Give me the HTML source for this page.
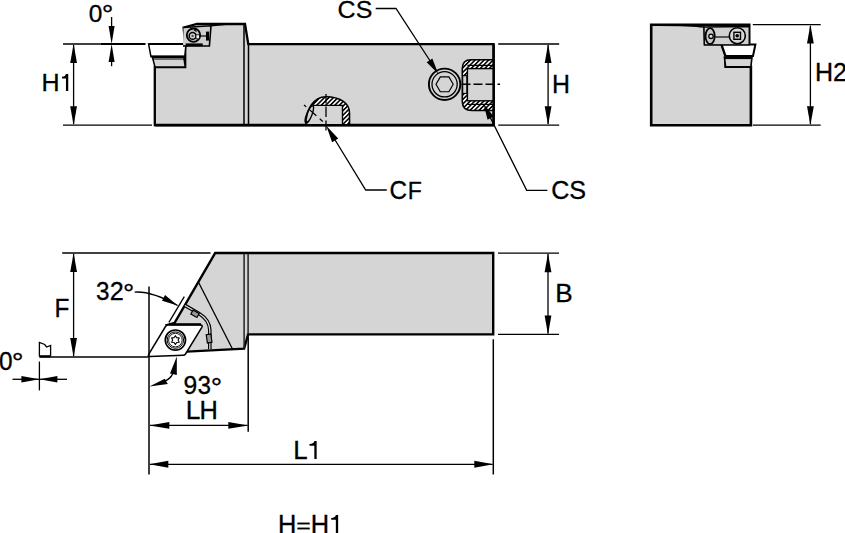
<!DOCTYPE html>
<html><head><meta charset="utf-8"><style>
html,body{margin:0;padding:0;background:#fff;width:845px;height:533px;overflow:hidden}
svg{display:block}
text{font-family:"Liberation Sans",sans-serif;fill:#000}
</style></head><body>
<svg width="845" height="533" viewBox="0 0 845 533">
<rect width="845" height="533" fill="#fff"/>
<line x1="63" y1="44" x2="100.5" y2="44" stroke="#000" stroke-width="1.3" />
<line x1="100.5" y1="44" x2="145.5" y2="44" stroke="#000" stroke-width="2.0" />
<line x1="63" y1="125.2" x2="152" y2="125.2" stroke="#000" stroke-width="1.3" />
<line x1="73.6" y1="45" x2="73.6" y2="124" stroke="#000" stroke-width="1.3" />
<polygon points="73.60,44.00 77.00,63.00 70.20,63.00" fill="#000"/>
<polygon points="73.60,125.20 70.20,106.20 77.00,106.20" fill="#000"/>
<text x="0" y="0" font-size="25" transform="matrix(1.0025,0,0,0.9709,41.49,90.85)" stroke="#000" stroke-width="0.3">H</text>
<path d="M65.95,73.90 H68.25 V91.10 H65.95 V78.54 H62.00 V76.74 C64.35,76.74 65.65,75.45 65.95,73.90 Z" fill="#000"/>
<line x1="111.6" y1="17" x2="111.6" y2="30" stroke="#000" stroke-width="1.3" />
<line x1="111.6" y1="55" x2="111.6" y2="66.2" stroke="#000" stroke-width="1.3" />
<polygon points="111.60,44.00 108.60,26.00 114.60,26.00" fill="#000"/>
<polygon points="111.60,44.00 114.60,62.00 108.60,62.00" fill="#000"/>
<text x="0" y="0" font-size="25" transform="matrix(0.9790,0,0,0.9802,88.79,22.41)" stroke="#000" stroke-width="0.3">0</text>
<text x="0" y="0" font-size="25" transform="matrix(1.1703,0,0,1.0779,101.81,24.37)" stroke="#000" stroke-width="0.3">&#176;</text>
<path d="M154.8,125 V67 H185.2 V44.2 L183.6,27.5 L197,24 H245 L248.3,44.2 H493.6 V125 Z" fill="#d5d5d5" stroke="#000" stroke-width="2.3" stroke-linejoin="miter"/>
<path d="M148.6,44.1 H186 L184.8,56.3 L150.9,56.4 Z" fill="#fff" stroke="#000" stroke-width="1.5"/>
<line x1="148.6" y1="44.1" x2="186" y2="44.1" stroke="#000" stroke-width="2.0" />
<line x1="150.9" y1="56.5" x2="184.8" y2="56.5" stroke="#000" stroke-width="2.0" />
<path d="M152.4,57.2 H183.8 L185.2,67 H155 Z" fill="#d5d5d5" stroke="#000" stroke-width="1.5"/>
<line x1="152.6" y1="57.2" x2="183.8" y2="57.2" stroke="#000" stroke-width="1.6" />
<line x1="153" y1="59" x2="184" y2="59" stroke="#000" stroke-width="1.0" />
<path d="M183.6,27.5 L211,25.8 L209.4,46 L183,46" fill="#cfcfcf" stroke="#000" stroke-width="1.6"/>
<path d="M211,25.8 Q230,23.5 245,24" fill="none" stroke="#000" stroke-width="1.4"/>
<line x1="185.7" y1="44.8" x2="202.7" y2="44.8" stroke="#000" stroke-width="2.8" />
<circle cx="193.5" cy="35.2" r="6.7" fill="#c4c4c4" stroke="#000" stroke-width="1.8"/>
<circle cx="192.6" cy="35.9" r="3.4" fill="#d0d0d0" stroke="#000" stroke-width="1.5"/>
<circle cx="192.6" cy="35.9" r="1.2" fill="#555"/>
<rect x="196" y="34.8" width="3.4" height="4" fill="#f4f4f4" stroke="#000" stroke-width="0.8"/>
<line x1="194" y1="29.5" x2="196.5" y2="31.5" stroke="#000" stroke-width="1.2" />
<line x1="199.5" y1="36" x2="206" y2="36" stroke="#000" stroke-width="1.2" />
<rect x="206" y="31.6" width="3" height="9" fill="#000"/>
<line x1="244" y1="25" x2="244" y2="124" stroke="#000" stroke-width="1.5" />
<line x1="248.5" y1="44" x2="248.5" y2="124" stroke="#000" stroke-width="1.5" />
<defs><pattern id="h" patternUnits="userSpaceOnUse" width="3.2" height="3.2" patternTransform="rotate(45)"><rect width="3.2" height="3.2" fill="#fff"/><rect width="1.55" height="3.2" fill="#000"/></pattern></defs>
<clipPath id="cfc"><path d="M305.7,125 C306,110 313,96.7 326,96.7 C340,96.7 349.5,103 349.5,113 V125 Z"/></clipPath>
<path d="M305.7,125 C306,110 313,96.7 326,96.7 C340,96.7 349.5,103 349.5,113 V125 Z" fill="url(#h)"/>
<rect x="300" y="105.4" width="42.5" height="20" fill="#d5d5d5" clip-path="url(#cfc)"/>
<path d="M312.4,105.4 H342.5 V125" fill="none" stroke="#000" stroke-width="1.4"/>
<path d="M305.7,125 C306,110 313,96.7 326,96.7 C340,96.7 349.5,103 349.5,113 V125" fill="none" stroke="#000" stroke-width="1.6"/>
<ellipse cx="309.3" cy="114.5" rx="2.6" ry="9.2" transform="rotate(22 309.3 114.5)" fill="none" stroke="#000" stroke-width="1.3"/>
<circle cx="306.5" cy="122" r="1.5" fill="#000"/>
<line x1="326" y1="94" x2="326" y2="130.6" stroke="#000" stroke-width="1.3" stroke-dasharray="9.5,3,10.5,3.5,10"/>
<line x1="304" y1="104.9" x2="322.9" y2="121.6" stroke="#000" stroke-width="1.3" stroke-dasharray="3,4.5,9,4.5,4"/>
<circle cx="444.6" cy="84.3" r="15.7" fill="none" stroke="#000" stroke-width="1.9"/>
<circle cx="444.6" cy="84.3" r="12.6" fill="none" stroke="#000" stroke-width="1.3"/>
<polygon points="453.20,84.30 448.90,91.75 440.30,91.75 436.00,84.30 440.30,76.85 448.90,76.85" fill="none" stroke="#000" stroke-width="1.2"/>
<path d="M493.6,59.7 H471 C465,59.7 462.3,62.5 462.3,68.5 V101.5 C462.3,107.5 465.5,110.5 472,110.5 H493.6 Z" fill="url(#h)" stroke="#000" stroke-width="1.6"/>
<rect x="467.4" y="68.6" width="26.2" height="32.2" fill="#d5d5d5" stroke="#000" stroke-width="1.4"/>
<line x1="467.4" y1="65.4" x2="493.6" y2="65.4" stroke="#000" stroke-width="1.3" />
<line x1="467.4" y1="104.4" x2="493.6" y2="104.4" stroke="#000" stroke-width="1.2" />
<rect x="462.7" y="75.7" width="4.1" height="17.7" fill="#d5d5d5" stroke="#000" stroke-width="1.1"/>
<line x1="461.5" y1="84.3" x2="500" y2="84.3" stroke="#000" stroke-width="1.4" stroke-dasharray="9,3"/>
<path d="M493.6,44.2 V125.2 H154.8" fill="none" stroke="#000" stroke-width="2.4"/>
<text x="0" y="0" font-size="25" transform="matrix(0.9979,0,0,0.9830,337.58,17.71)" stroke="#000" stroke-width="0.3">C</text>
<text x="0" y="0" font-size="25" transform="matrix(1.0005,0,0,0.9830,355.71,17.71)" stroke="#000" stroke-width="0.3">S</text>
<polyline points="375.7,8.5 396,8.5 436,70" fill="none" stroke="#000" stroke-width="1.3"/>
<polygon points="438.20,73.80 426.66,62.21 432.37,58.52" fill="#000"/>
<polyline points="329,130 365.7,190 386.8,190" fill="none" stroke="#000" stroke-width="1.3"/>
<polygon points="326.30,125.80 338.26,138.41 332.12,142.17" fill="#000"/>
<text x="0" y="0" font-size="25" transform="matrix(0.9727,0,0,1.0282,389.42,199.40)" stroke="#000" stroke-width="0.3">C</text>
<text x="0" y="0" font-size="25" transform="matrix(0.9248,0,0,0.9884,407.65,199.35)" stroke="#000" stroke-width="0.3">F</text>
<polyline points="486,109 526.7,190.4 547.4,190.4" fill="none" stroke="#000" stroke-width="1.3"/>
<polygon points="483.50,103.80 493.68,116.60 487.60,119.64" fill="#000"/>
<text x="0" y="0" font-size="25" transform="matrix(1.0043,0,0,1.0226,551.18,198.60)" stroke="#000" stroke-width="0.3">C</text>
<text x="0" y="0" font-size="25" transform="matrix(1.0075,0,0,1.0226,569.21,198.60)" stroke="#000" stroke-width="0.3">S</text>
<line x1="498.2" y1="44" x2="559.2" y2="44" stroke="#000" stroke-width="1.3" />
<line x1="498.2" y1="125.2" x2="559.2" y2="125.2" stroke="#000" stroke-width="1.3" />
<line x1="548.1" y1="45" x2="548.1" y2="124" stroke="#000" stroke-width="1.3" />
<polygon points="548.10,44.00 551.50,63.00 544.70,63.00" fill="#000"/>
<polygon points="548.10,125.20 544.70,106.20 551.50,106.20" fill="#000"/>
<text x="0" y="0" font-size="25" transform="matrix(0.9954,0,0,1.0116,551.91,92.65)" stroke="#000" stroke-width="0.3">H</text>
<path d="M651.2,24.8 H749.2 V44.5 H721.6 L725.6,56 V66.7 H750.9 V125.2 H651.2 Z" fill="#d5d5d5" stroke="#000" stroke-width="2.6"/>
<path d="M721.6,44.5 H755.4 L753,56 H725.6 Z" fill="#fff" stroke="#000" stroke-width="2"/>
<path d="M724.4,57.2 H752 L750.9,66.7 H725.6 Z" fill="#d5d5d5" stroke="#000" stroke-width="1.6"/>
<line x1="724.4" y1="57.8" x2="752" y2="57.8" stroke="#000" stroke-width="2.6" />
<path d="M651,25.2 Q690,25 704,27 L704.4,44.8 H721.6" fill="none" stroke="#000" stroke-width="1.4"/>
<path d="M704,27 L749.2,26.5 V44.8 H704.4 Z" fill="#d0d0d0" stroke="#000" stroke-width="1.3"/>
<ellipse cx="710.1" cy="36.1" rx="4.6" ry="8" fill="#c8c8c8" stroke="#000" stroke-width="1.8"/>
<circle cx="711" cy="36.3" r="2.2" fill="#e0e0e0" stroke="#000" stroke-width="1.3"/>
<circle cx="737.3" cy="35.7" r="8" fill="#d8d8d8" stroke="#000" stroke-width="1.6"/>
<rect x="733.9" y="32.3" width="6.6" height="7" fill="none" stroke="#000" stroke-width="1.4"/>
<circle cx="737.2" cy="35.8" r="1.8" fill="#000"/>
<line x1="715" y1="37" x2="729.3" y2="37" stroke="#000" stroke-width="1.2" />
<line x1="752.8" y1="24.6" x2="820.7" y2="24.6" stroke="#000" stroke-width="1.3" />
<line x1="752.8" y1="125.2" x2="820.7" y2="125.2" stroke="#000" stroke-width="1.3" />
<line x1="810.4" y1="26" x2="810.4" y2="124" stroke="#000" stroke-width="1.3" />
<polygon points="810.40,24.60 813.80,43.60 807.00,43.60" fill="#000"/>
<polygon points="810.40,125.20 807.00,106.20 813.80,106.20" fill="#000"/>
<text x="0" y="0" font-size="25" transform="matrix(1.0025,0,0,1.0058,814.99,80.75)" stroke="#000" stroke-width="0.3">H</text>
<text x="0" y="0" font-size="25" transform="matrix(1.0097,0,0,1.0082,832.88,80.75)" stroke="#000" stroke-width="0.3">2</text>
<line x1="62.2" y1="253" x2="210.5" y2="253" stroke="#000" stroke-width="1.3" />
<line x1="39.4" y1="357" x2="148.3" y2="357" stroke="#000" stroke-width="1.3" />
<line x1="73.6" y1="254" x2="73.6" y2="356" stroke="#000" stroke-width="1.3" />
<polygon points="73.60,253.00 77.00,272.00 70.20,272.00" fill="#000"/>
<polygon points="73.60,357.00 70.20,338.00 77.00,338.00" fill="#000"/>
<text x="0" y="0" font-size="25" transform="matrix(0.9739,0,0,1.0233,54.55,316.65)" stroke="#000" stroke-width="0.3">F</text>
<path d="M215.2,253 H493.2 V334.4 H248.1 L244.1,348.7 L187.2,351.6 L166.8,325.1 L174.5,323 Z" fill="#d5d5d5" stroke="#000" stroke-width="2.4" stroke-linejoin="miter"/>
<line x1="244.1" y1="254" x2="244.1" y2="348.5" stroke-width="1.5" stroke="#222"/>
<line x1="248.1" y1="254" x2="248.1" y2="334" stroke-width="1.5" stroke="#222"/>
<line x1="198.5" y1="282.2" x2="232.6" y2="349.2" stroke="#000" stroke-width="1.3" />
<path d="M184.9,305.4 L199,313.5 Q209.5,320 209.8,330 V349" fill="none" stroke="#000" stroke-width="3.6"/>
<path d="M184.9,305.4 L199,313.5 Q209.5,320 209.8,330 V349" fill="none" stroke="#e0e0e0" stroke-width="1.2"/>
<rect x="191.5" y="311.5" width="7" height="4.6" fill="#999" stroke="#000" stroke-width="1.2" transform="rotate(30 195 313.8)"/>
<rect x="206.8" y="334.3" width="4.6" height="8.4" fill="#999" stroke="#000" stroke-width="1.2" transform="rotate(-8 209 338.5)"/>
<line x1="184.3" y1="296.7" x2="168.9" y2="322.3" stroke="#000" stroke-width="1.3" />
<path d="M150,356.6 Q147.5,356.8 148.8,354.2 L165.5,326.5 Q166.5,325.1 168.5,325.1 H200.5 Q203,325.1 201.8,327.3 L185.5,354 Q184.6,355.2 183,355.2 Z" fill="#fff" stroke="#000" stroke-width="1.5"/>
<line x1="169" y1="324.3" x2="201" y2="324.3" stroke="#000" stroke-width="2.2" />
<circle cx="175.4" cy="340.1" r="10.1" fill="#fff" stroke="#000" stroke-width="1.7"/>
<circle cx="175.4" cy="340.1" r="8.2" fill="none" stroke="#000" stroke-width="1.0"/>
<circle cx="175.4" cy="340.1" r="6.8" fill="none" stroke="#000" stroke-width="0.9"/>
<polygon points="175.40,335.70 176.75,337.76 179.21,337.90 178.10,340.10 179.21,342.30 176.75,342.44 175.40,344.50 174.05,342.44 171.59,342.30 172.70,340.10 171.59,337.90 174.05,337.76" fill="none" stroke="#000" stroke-width="1.1" stroke-linejoin="round"/>
<text x="0" y="0" font-size="25" transform="matrix(0.9702,0,0,1.0056,95.93,300.40)" stroke="#000" stroke-width="0.3">3</text>
<text x="0" y="0" font-size="25" transform="matrix(1.0097,0,0,1.0025,109.78,300.35)" stroke="#000" stroke-width="0.3">2</text>
<text x="0" y="0" font-size="25" transform="matrix(1.1275,0,0,1.0923,122.97,302.52)" stroke="#000" stroke-width="0.3">&#176;</text>
<line x1="149" y1="286.6" x2="149" y2="474.5" stroke="#000" stroke-width="1.5" />
<path d="M134.7,292.1 Q152,291 177.6,305.5" fill="none" stroke="#000" stroke-width="1.3"/>
<polygon points="177.60,305.50 162.00,300.72 165.04,295.08" fill="#000"/>
<line x1="498" y1="253.2" x2="559" y2="253.2" stroke="#000" stroke-width="1.3" />
<line x1="498" y1="334.4" x2="559" y2="334.4" stroke="#000" stroke-width="1.3" />
<line x1="548" y1="254" x2="548" y2="333.5" stroke="#000" stroke-width="1.3" />
<polygon points="548.00,253.20 551.40,272.20 544.60,272.20" fill="#000"/>
<polygon points="548.00,334.40 544.60,315.40 551.40,315.40" fill="#000"/>
<text x="0" y="0" font-size="25" transform="matrix(1.0447,0,0,1.0233,555.21,302.35)" stroke="#000" stroke-width="0.3">B</text>
<line x1="493.3" y1="339.3" x2="493.3" y2="474.5" stroke="#000" stroke-width="1.5" />
<line x1="248.2" y1="336.5" x2="248.2" y2="431.7" stroke="#000" stroke-width="1.5" />
<line x1="150" y1="425.4" x2="247.5" y2="425.4" stroke="#000" stroke-width="1.3" />
<polygon points="149.30,425.40 169.30,422.00 169.30,428.80" fill="#000"/>
<polygon points="248.30,425.40 228.30,428.80 228.30,422.00" fill="#000"/>
<text x="0" y="0" font-size="25" transform="matrix(1.0523,0,0,1.0175,185.79,418.55)" stroke="#000" stroke-width="0.3">L</text>
<text x="0" y="0" font-size="25" transform="matrix(1.0168,0,0,1.0175,199.56,418.55)" stroke="#000" stroke-width="0.3">H</text>
<text x="0" y="0" font-size="25" transform="matrix(0.9872,0,0,1.0000,183.49,394.11)" stroke="#000" stroke-width="0.3">9</text>
<text x="0" y="0" font-size="25" transform="matrix(0.9702,0,0,1.0000,197.53,394.11)" stroke="#000" stroke-width="0.3">3</text>
<text x="0" y="0" font-size="25" transform="matrix(1.1417,0,0,1.0635,210.65,395.71)" stroke="#000" stroke-width="0.3">&#176;</text>
<path d="M162,382.5 Q168.5,380 171.5,376 Q173.4,373.5 173.6,370" fill="none" stroke="#000" stroke-width="1.3"/>
<polygon points="149.4,386.6 164.8,378.7 167.8,383.9" fill="#000"/>
<polygon points="176.8,356.5 170,373.4 176.8,374.9" fill="#000"/>
<line x1="150" y1="464.3" x2="492.5" y2="464.3" stroke="#000" stroke-width="1.3" />
<polygon points="149.30,464.30 168.30,460.80 168.30,467.80" fill="#000"/>
<polygon points="493.30,464.30 474.30,467.80 474.30,460.80" fill="#000"/>
<text x="0" y="0" font-size="25" transform="matrix(1.0342,0,0,1.0233,293.23,458.75)" stroke="#000" stroke-width="0.3">L</text>
<path d="M314.35,440.90 H316.65 V459.00 H314.35 V445.79 H309.50 V443.89 C312.75,443.89 314.05,442.53 314.35,440.90 Z" fill="#000"/>
<path d="M39.4,356.5 V342.5 L44.7,344.5 L46.6,347 L50.6,345.5 V356.3" fill="#fff" stroke="#000" stroke-width="1.3"/>
<line x1="39.4" y1="356.3" x2="50.6" y2="356.3" stroke="#000" stroke-width="2.2" />
<line x1="39.4" y1="361.5" x2="39.4" y2="390.4" stroke="#000" stroke-width="1.3" />
<line x1="12.5" y1="379.3" x2="39.4" y2="379.3" stroke="#000" stroke-width="1.3" />
<line x1="39.4" y1="379.3" x2="67" y2="379.3" stroke="#000" stroke-width="1.3" />
<polygon points="39.40,379.30 21.40,382.50 21.40,376.10" fill="#000"/>
<polygon points="39.40,379.30 57.40,376.10 57.40,382.50" fill="#000"/>
<text x="0" y="0" font-size="25" transform="matrix(0.9790,0,0,1.0056,-0.91,369.90)" stroke="#000" stroke-width="0.3">0</text>
<text x="0" y="0" font-size="25" transform="matrix(1.1846,0,0,1.1210,11.69,372.42)" stroke="#000" stroke-width="0.3">&#176;</text>
<text x="0" y="0" font-size="25" transform="matrix(1.0168,0,0,1.0116,277.96,532.65)" stroke="#000" stroke-width="0.3">H</text>
<text x="0" y="0" font-size="25" transform="matrix(0.9962,0,0,0.7944,296.23,533.09)" stroke="#000" stroke-width="0.3">=</text>
<text x="0" y="0" font-size="25" transform="matrix(1.0168,0,0,1.0116,310.66,532.65)" stroke="#000" stroke-width="0.3">H</text>
<path d="M335.85,515.00 H338.15 V532.90 H335.85 V519.83 H331.20 V517.95 C334.25,517.95 335.55,516.61 335.85,515.00 Z" fill="#000"/>
</svg>
</body></html>
